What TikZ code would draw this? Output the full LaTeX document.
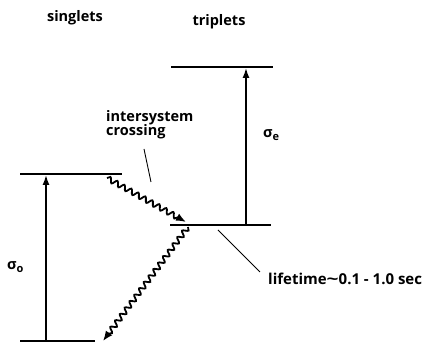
\documentclass[tikz,border=0pt]{standalone}
\usepackage{fontspec}
\setmainfont{Open Sans}
\usetikzlibrary{arrows.meta,decorations.pathmorphing}
\tikzset{
  level/.style={line width=2.6pt},
  arr/.style={-{Latex[length=10pt,width=7pt]}, line width=1.5pt},
  warr/.style={-{Latex[length=10pt,width=8pt]}, line width=1.8pt, decorate,
               decoration={snake, amplitude=2.6pt, segment length=8pt,
                           post length=8pt}},
  lbl/.style={font=\fontsize{14.5}{16}\selectfont\bfseries, inner sep=0pt},
  ptr/.style={line width=0.9pt},
}
\newcommand{\sig}[1]{σ\raisebox{-0.35ex}{\fontsize{11}{11}\selectfont #1}}

\begin{document}
\begin{tikzpicture}[x=1pt, y=-1pt]
  \useasboundingbox (0,0) rectangle (432,342);
  % energy levels
  \coordinate (S1a) at (20,174);  \coordinate (S1b) at (122,174);
  \coordinate (S0a) at (20,341);  \coordinate (S0b) at (95,341);
  \coordinate (T1a) at (170,225); \coordinate (T1b) at (271,225);
  \coordinate (T2a) at (171,67);  \coordinate (T2b) at (273,67);
  \draw[level] (S1a) -- (S1b);
  \draw[level, line width=1.6pt] (S0a) -- (S0b);
  \draw[level] (T1a) -- (T1b);
  \draw[level] (T2a) -- (T2b);

  % absorption arrows
  \coordinate (so0) at (46,341);  \coordinate (so1) at (46,175);
  \coordinate (se0) at (246,225); \coordinate (se1) at (246,68);
  \draw[arr] (so0) -- (so1);
  \draw[arr] (se0) -- (se1);

  % radiationless transitions
  \coordinate (isc0) at (107,178); \coordinate (isc1) at (186,222);
  \coordinate (ph0) at (188,227);  \coordinate (ph1) at (103,341);
  \draw[warr] (isc0) -- (isc1);
  \draw[warr] (ph0) -- (ph1);

  % labels
  \node[lbl] (sing) at (75,18) {singlets};
  \node[lbl] (trip) at (219,22) {triplets};
  \node[lbl, anchor=west] (sigo) at (7,267) {\sig{o}};
  \node[lbl, anchor=west] (sige) at (263,135) {\sig{e}};
  \node[lbl, anchor=north west, align=left] (isc) at (106,110)
       {intersystem\\[-2pt]crossing};
  \node[lbl, anchor=west, font=\fontsize{15}{17}\selectfont\bfseries]
       (life) at (268,279)
       {lifetime\scalebox{1.4}[1]{\textasciitilde}0.1 - 1.0 sec};

  % pointers
  \coordinate (p0) at (144,149); \coordinate (p1) at (151,182);
  \coordinate (q0) at (218,230); \coordinate (q1) at (260,272);
  \draw[ptr] (p0) -- (p1);
  \draw[ptr] (q0) -- (q1);
\end{tikzpicture}
\end{document}
